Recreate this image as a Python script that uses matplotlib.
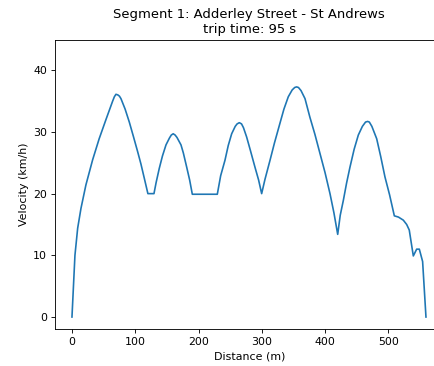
import matplotlib
matplotlib.use("Agg")
import matplotlib.pyplot as plt

title = "Segment 1: Adderley Street - St Andrews\ntrip time: 95 s"

distance_m = [0, 4.7, 9, 14.2, 22, 32.7, 43, 53.7, 64.3, 67, 69.5, 72.5, 75, 77.4, 84,
              90.6, 97, 103.8, 109, 114.3, 120, 129.6, 133, 138, 143, 148.6, 154, 157,
              160, 163, 166, 172.3, 176, 181.3, 186, 190.2, 229.7, 235, 241.8, 247,
              252.4, 258, 261, 264.5, 268, 271, 276, 282, 289.2, 295, 299.8, 305, 313,
              320, 328.7, 335, 341.9, 348, 352, 355, 358, 362, 368.3, 376, 384, 392,
              400, 407.8, 414, 420, 424, 428.9, 434, 439.4, 446, 452.6, 459, 464,
              467.3, 470, 474, 481.6, 488, 494.7, 502, 509.5, 516, 523.7, 529, 533.1,
              539.5, 544.8, 549, 554.2, 559.5]
velocity_kmh = [0, 10, 14.4, 17.6, 21.4, 25.5, 28.9, 32.0, 35.0, 35.7, 36.1, 36.0,
                35.8, 35.4, 33.7, 31.6, 29.3, 26.8, 24.8, 22.5, 20, 20, 21.8, 24.1, 26.1,
                27.9, 29.0, 29.5, 29.7, 29.5, 29.1, 27.9, 26.6, 24.3, 22.2, 19.9, 19.9,
                22.9, 25.4, 27.8, 29.7, 30.9, 31.3, 31.5, 31.3, 30.7, 29.2, 27.0, 24.3,
                22.2, 20, 22.3, 25.4, 28.2, 31.4, 33.7, 35.7, 36.8, 37.2, 37.3, 37.2,
                36.7, 35.4, 32.4, 29.6, 26.5, 23.4, 20, 16.9, 13.4, 16.5, 18.9, 21.7,
                24.3, 27.2, 29.5, 30.9, 31.6, 31.7, 31.6, 30.9, 28.9, 26.0, 22.7, 19.8,
                16.4, 16.2, 15.7, 15.0, 14.1, 9.9, 11.0, 11.0, 9.0, 0]

xticks = [0, 100, 200, 300, 400, 500]
yticks = [0, 10, 20, 30, 40]

s = 0.79
fig = plt.figure(figsize=(4.34, 3.66), dpi=100)
# axes extends past the right edge (reference is cropped)
ax = fig.add_axes([54.7/434, 1 - 329/366, (444 - 54.7)/434, (329 - 40)/366])
ax.plot(distance_m, velocity_kmh, color="#1f77b4", linewidth=1.5*s)
ax.set_xlim(-27.3, 588)
ax.set_ylim(-1.94, 44.9)
ax.set_xticks(xticks)
ax.set_yticks(yticks)
ax.tick_params(labelsize=10*s, length=3.5*s, width=0.8*s, pad=3.5*s)
for sp in ax.spines.values():
    sp.set_linewidth(0.8*s)
ax.set_xlabel("Distance (m)", fontsize=10*s, labelpad=4*s)
ax.set_ylabel("Velocity (km/h)", fontsize=10*s, labelpad=4*s)
ax.set_title(title, fontsize=12*s, pad=6*s)
fig.savefig("out.png", dpi=100)
